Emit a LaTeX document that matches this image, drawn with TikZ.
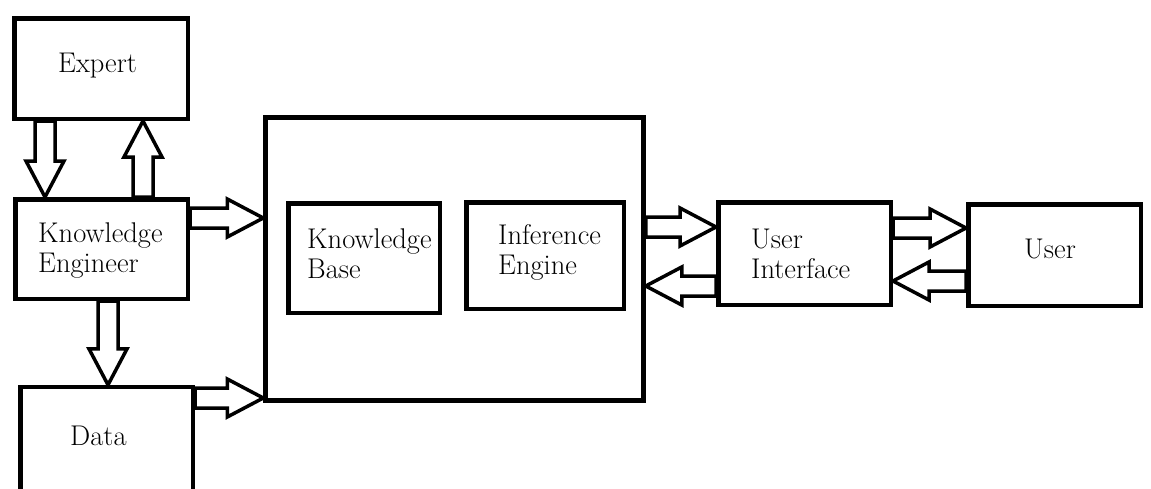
\documentclass[tikz,border=0pt]{standalone}
\usepackage{tikz}
\usetikzlibrary{calc}

\tikzset{
  box/.style={draw, line width=4.5pt, inner sep=0pt},
  hollow/.style={draw, line width=3.5pt, fill=white, line join=miter},
  lbl/.style={inner sep=0pt, align=left, font=\fontsize{28.5}{30}\selectfont},
}

% hollow block arrow from #1 to #2
\newcommand{\hollowarrow}[2]{%
  \coordinate (ha-s) at (#1);
  \coordinate (ha-e) at (#2);
  \coordinate (ha-h) at ($(ha-e)!36pt!(ha-s)$);
  \draw[hollow] ($(ha-s)!10pt!90:(ha-e)$) -- ($(ha-h)!10pt!-90:(ha-s)$) -- ($(ha-h)!19pt!-90:(ha-s)$) -- (ha-e)
    -- ($(ha-h)!19pt!90:(ha-s)$) -- ($(ha-h)!10pt!90:(ha-s)$) -- ($(ha-s)!10pt!-90:(ha-e)$) -- cycle;}

\begin{document}
\begin{tikzpicture}[x=1pt,y=1pt,yscale=-1]
        \useasboundingbox (0,0) rectangle (1151,488);

        %Shape: Rectangle
        \node[box, minimum width=173.5pt, minimum height=100.5pt] (expert) at (101,68.5) {};
        %Shape: Rectangle
        \node[box, minimum width=172.5pt, minimum height=99.5pt] (ke) at (101.5,249) {};
        %Shape: Rectangle
        \node[box, minimum width=172.5pt, minimum height=107.75pt] (data) at (106.5,441) {};
        %Shape: Rectangle
        \node[box, minimum width=378pt, minimum height=283pt] (system) at (454.5,259) {};
        %Shape: Rectangle
        \node[box, minimum width=151.5pt, minimum height=109.5pt] (kb) at (364,258) {};
        %Shape: Rectangle
        \node[box, minimum width=157.5pt, minimum height=106.5pt] (ie) at (545,255.5) {};
        %Shape: Rectangle
        \node[box, minimum width=172.5pt, minimum height=102.5pt] (ui) at (804.5,253.5) {};
        %Shape: Rectangle
        \node[box, minimum width=172.5pt, minimum height=101.5pt] (user) at (1054.5,255) {};

        % Text Node
        \node[lbl, anchor=base west] (expert-t) at (58,72) {Expert};
        % Text Node
        \node[lbl, anchor=base west] (ke-t) at (38,272) {Knowledge\\Engineer};
        % Text Node
        \node[lbl, anchor=base west] (data-t) at (70,445) {Data};
        % Text Node
        \node[lbl, anchor=base west] (kb-t) at (307,278) {Knowledge\\Base};
        % Text Node
        \node[lbl, anchor=base west] (ie-t) at (498,274) {Inference\\Engine};
        % Text Node
        \node[lbl, anchor=base west] (ui-t) at (751,278) {User\\Interface};
        % Text Node
        \node[lbl, anchor=base west] (user-t) at (1024,258) {User};

        %Block Arrows
        \hollowarrow{45,0 |- expert.south}{45,0 |- ke.north}
        \hollowarrow{143,0 |- ke.north}{143,0 |- expert.south}
        \hollowarrow{ke.east |- 0,218}{system.west |- 0,218}
        \hollowarrow{108,0 |- ke.south}{108,0 |- data.north}
        \hollowarrow{data.east |- 0,398}{system.west |- 0,398}
        \hollowarrow{system.east |- 0,227}{ui.west |- 0,227}
        \hollowarrow{ui.west |- 0,286}{system.east |- 0,286}
        \hollowarrow{ui.east |- 0,228}{user.west |- 0,228}
        \hollowarrow{user.west |- 0,281}{ui.east |- 0,281}

\end{tikzpicture}
\end{document}
